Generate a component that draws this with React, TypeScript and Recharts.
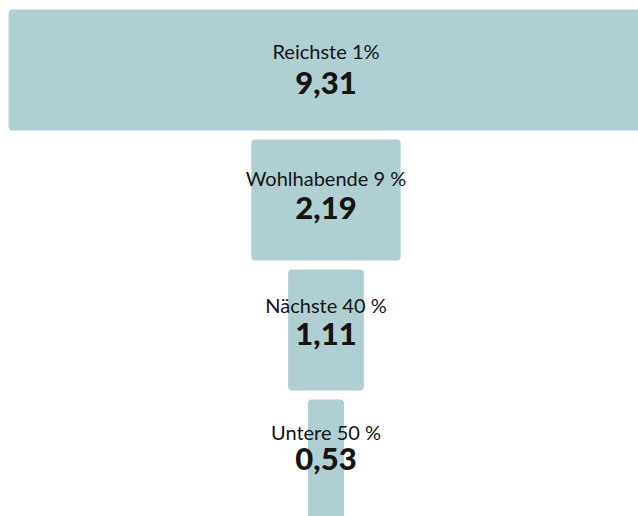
import React from "react";
import { BarChart, Bar, XAxis, YAxis, LabelList } from "recharts";

const groups = ["Reichste 1%", "Wohlhabende 9 %", "Nächste 40 %", "Untere 50 %"];
const values = [9.31, 2.19, 1.11, 0.53];
const valueLabels = ["9,31", "2,19", "1,11", "0,53"];

const data = groups.map((g, i) => ({
  group: g,
  value: values[i],
  span: [-values[i] / 2, values[i] / 2],
}));

const BAR = "#afcfd3";
const INK = "#141414";
const FONT = "Lato, 'Open Sans', sans-serif";

// label rows sit a little tighter than the bar rows
function Tag(props: any) {
  const { y, height, index } = props;
  const cx = 326;
  const mid = y + height / 2;
  return (
    <g>
      <text x={cx} y={mid - 11 - 3 * index} textAnchor="middle" fill={INK}
        style={{ fontFamily: FONT, fontSize: 20, fontWeight: 400 }}>
        {groups[index]}
      </text>
      <text x={cx} y={mid + 24 - 4.7 * index} textAnchor="middle" fill={INK}
        style={{ fontFamily: FONT, fontSize: 31, fontWeight: 900 }}>
        {valueLabels[index]}
      </text>
    </g>
  );
}

export default function App() {
  return (
    <div style={{ position: "absolute", left: 0, top: 0, width: 638, height: 516, overflow: "hidden", background: "#fff" }}>
      <BarChart width={652} height={530} data={data} layout="vertical"
        margin={{ top: 4.5, right: 0, bottom: 5.5, left: 0 }}>
        <XAxis type="number" domain={[-4.78, 4.78]} hide />
        <YAxis type="category" dataKey="group" hide />
        <Bar dataKey="span" fill={BAR} barSize={121} radius={4} isAnimationActive={false}>
          <LabelList dataKey="value" content={Tag} />
        </Bar>
      </BarChart>
    </div>
  );
}
